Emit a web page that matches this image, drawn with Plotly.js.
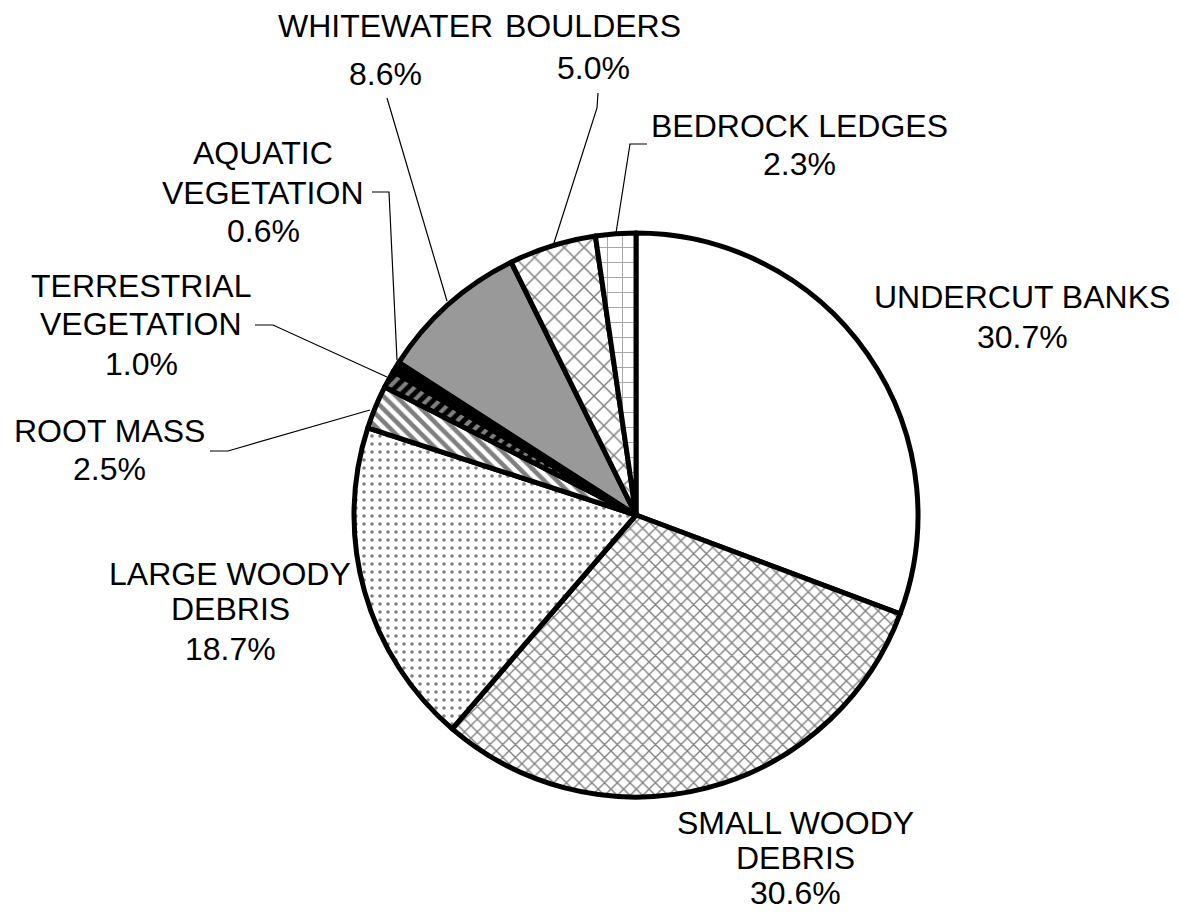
<!DOCTYPE html>
<html>
<head>
<meta charset="utf-8">
<script src="https://cdn.plot.ly/plotly-3.0.1.min.js"></script>
<style>html,body{margin:0;padding:0;background:#fff;}#chart{width:1180px;height:917px;}</style>
</head>
<body>
<div id="chart"></div>
<script>
// ---- data ----
var categories = ['UNDERCUT BANKS', 'SMALL WOODY DEBRIS', 'LARGE WOODY DEBRIS', 'ROOT MASS',
  'TERRESTRIAL VEGETATION', 'AQUATIC VEGETATION', 'WHITEWATER', 'BOULDERS', 'BEDROCK LEDGES'];
var values = [30.7, 30.6, 18.7, 2.5, 1.0, 0.6, 8.6, 5.0, 2.3];
var labelLines = [['UNDERCUT BANKS'], ['SMALL WOODY', 'DEBRIS'], ['LARGE WOODY', 'DEBRIS'], ['ROOT MASS'],
  ['TERRESTRIAL', 'VEGETATION'], ['AQUATIC', 'VEGETATION'], ['WHITEWATER'], ['BOULDERS'], ['BEDROCK LEDGES']];

// ---- styling ----
var fillColors = ['#ffffff', '#ffffff', '#ffffff', '#ffffff', '#000000', '#000000', '#999999', '#ffffff', '#ffffff'];
var patShapes  = ['', 'x', '.', '\\', '/', '', '', 'x', '+'];
var patFg      = ['#000', '#000', '#000', '#000', '#fff', '#000', '#000', '#000', '#444'];
var patSize    = [8, 9, 8, 9, 9, 8, 8, 14, 15];
var patSolid   = [0.2, 0.28, 0.16, 0.5, 0.45, 0.2, 0.2, 0.2, 0.12];

var W = 1180, H = 917;
var M = {l: 354, r: 262, t: 233, b: 120};
var PW = W - M.l - M.r, PH = H - M.t - M.b;
function px(x) { return (x - M.l) / PW; }
function py(y) { return (H - M.b - y) / PH; }

// label layout (pixel centres of each text line, name lines then percent line)
var labelPos = [
  {x: 1022, ys: [297, 337]},
  {x: 795, ys: [823, 858, 893]},
  {x: 230, ys: [574, 609, 649]},
  {x: 109, ys: [431, 469]},
  {x: 141, ys: [286, 324, 364]},
  {x: 263, ys: [153, 193, 231]},
  {x: 385, ys: [26, 74]},
  {x: 593, ys: [26, 68]},
  {x: 799, ys: [126, 164]}
];
var leaderPaths = [
  null, null, null,
  [[210, 451], [228, 451], [370, 410]],
  [[255, 325], [273, 325], [387, 377]],
  [[372, 192], [389, 192], [397, 360]],
  [[387, 98], [447, 301]],
  [[598, 93], [597, 108], [553, 246]],
  [[647, 144], [630, 144], [616, 233]]
];

var font = {family: 'Liberation Sans, Arial, sans-serif', size: 32, color: '#000'};
var annotations = [];
var shapes = [];
categories.forEach(function (c, i) {
  var lines = labelLines[i].concat([values[i].toFixed(1) + '%']);
  lines.forEach(function (t, j) {
    annotations.push({
      xref: 'paper', yref: 'paper', x: px(labelPos[i].x), y: py(labelPos[i].ys[j]),
      xanchor: 'center', yanchor: 'middle', text: t, showarrow: false, font: font
    });
  });
  var p = leaderPaths[i];
  if (p) {
    var d = p.map(function (pt, k) { return (k ? 'L ' : 'M ') + px(pt[0]) + ' ' + py(pt[1]); }).join(' ');
    shapes.push({type: 'path', xref: 'paper', yref: 'paper', path: d, line: {color: '#000', width: 1.2}});
  }
});

var trace = {
  type: 'pie',
  labels: categories,
  values: values,
  sort: false,
  direction: 'clockwise',
  rotation: 0,
  textinfo: 'none',
  hoverinfo: 'label+percent',
  marker: {
    colors: fillColors,
    line: {color: '#000', width: 5},
    pattern: {shape: patShapes, fgcolor: patFg, bgcolor: fillColors, size: patSize, solidity: patSolid, fillmode: 'overlay'}
  },
  domain: {x: [0, 1], y: [0, 1]}
};

var layout = {
  width: W, height: H,
  margin: M,
  showlegend: false,
  paper_bgcolor: '#fff',
  plot_bgcolor: '#fff',
  annotations: annotations,
  shapes: shapes
};
Plotly.newPlot('chart', [trace], layout, {displayModeBar: false, staticPlot: true});
</script>
</body>
</html>
